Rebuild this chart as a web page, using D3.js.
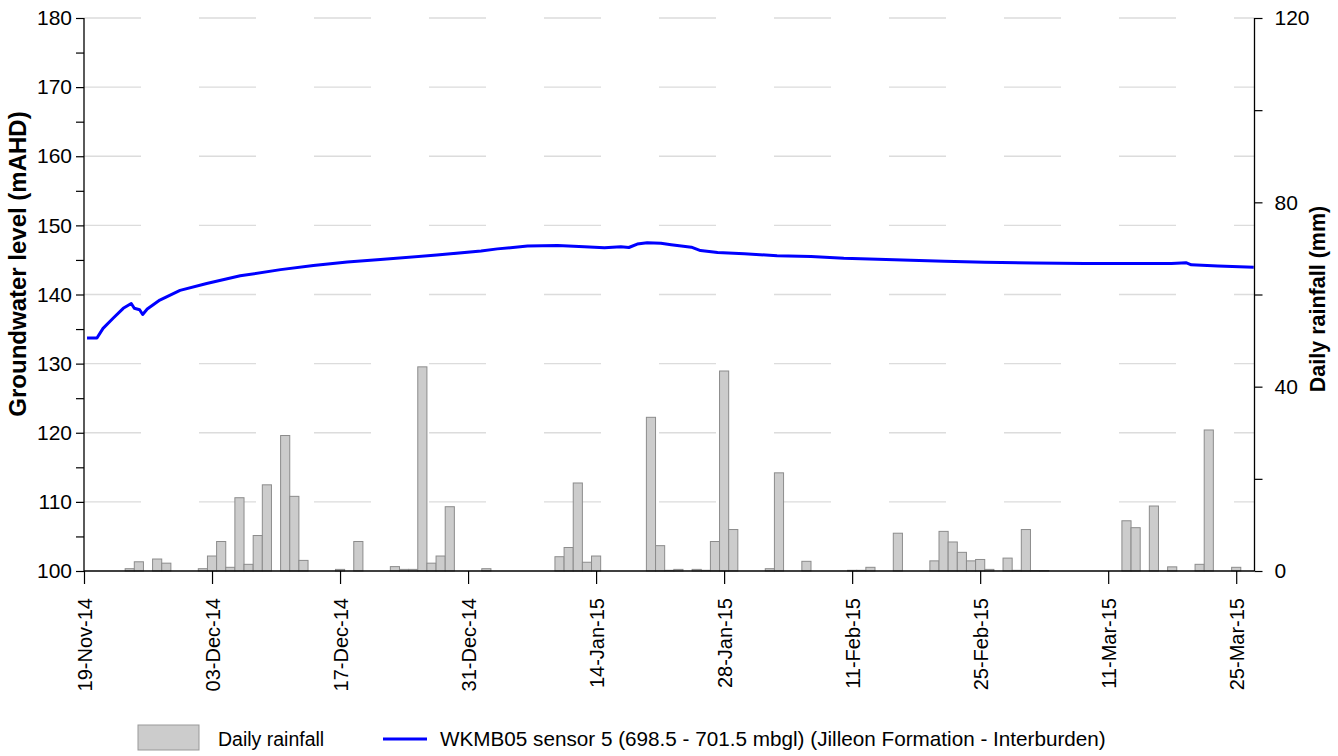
<!DOCTYPE html>
<html>
<head>
<meta charset="utf-8">
<script src="https://cdn.jsdelivr.net/npm/d3@7"></script>
<style>
  html, body { margin: 0; padding: 0; background: #ffffff; }
  svg { display: block; font-family: "Liberation Sans", Arial, sans-serif; }
</style>
</head>
<body>
<svg id="chart" width="1338" height="756"></svg>
<script>
// ---------------- DATA ----------------
const xTickDates = ["2014-11-19","2014-12-03","2014-12-17","2014-12-31","2015-01-14",
                    "2015-01-28","2015-02-11","2015-02-25","2015-03-11","2015-03-25"];
const xDomain = ["2014-11-19","2015-03-27"];

const leftTicks = [100,110,120,130,140,150,160,170,180];
const rightTicks = [0,40,80,120];

const rainDates = ["2014-11-24","2014-11-25","2014-11-27","2014-11-28","2014-12-02","2014-12-03",
  "2014-12-04","2014-12-05","2014-12-06","2014-12-07","2014-12-08","2014-12-09","2014-12-11",
  "2014-12-12","2014-12-13","2014-12-17","2014-12-19","2014-12-23","2014-12-24","2014-12-25",
  "2014-12-26","2014-12-27","2014-12-28","2014-12-29","2015-01-02","2015-01-10","2015-01-11",
  "2015-01-12","2015-01-13","2015-01-14","2015-01-20","2015-01-21","2015-01-22","2015-01-23",
  "2015-01-25","2015-01-26","2015-01-27","2015-01-28","2015-01-29","2015-02-02","2015-02-03",
  "2015-02-06","2015-02-11","2015-02-12","2015-02-13","2015-02-16","2015-02-20","2015-02-21",
  "2015-02-22","2015-02-23","2015-02-24","2015-02-25","2015-02-26","2015-02-28","2015-03-01",
  "2015-03-02","2015-03-03","2015-03-04","2015-03-13","2015-03-14","2015-03-16","2015-03-18",
  "2015-03-21","2015-03-22","2015-03-25"];
const rainValues = [0.5,2.0,2.6,1.7,0.5,3.25,
  6.4,0.8,15.9,1.45,7.7,18.7,29.4,
  16.2,2.3,0.35,6.4,0.95,0.35,0.35,
  44.3,1.7,3.25,13.95,0.5,3.1,5.1,
  19.1,1.9,3.25,33.35,5.5,0.15,0.35,
  0.35,0.15,6.4,43.4,9.0,0.5,21.3,
  2.1,0.15,0.15,0.8,8.2,2.2,8.6,
  6.3,4.05,2.2,2.5,0.35,2.8,0.15,
  9.0,0.1,0.1,10.9,9.4,14.1,0.9,
  1.45,30.6,0.8];

const gwTimes = ["2014-11-19 08:00","2014-11-20 10:00","2014-11-21 02:00","2014-11-22 05:00",
  "2014-11-23 07:00","2014-11-24 04:00","2014-11-24 12:00","2014-11-25 02:00","2014-11-25 10:00",
  "2014-11-25 22:00","2014-11-27 07:00","2014-11-29 12:00","2014-12-02 10:00","2014-12-06 02:00",
  "2014-12-10 12:00","2014-12-14 02:00","2014-12-17 19:00","2014-12-21 10:00","2014-12-27 14:00",
  "2015-01-01 10:00","2015-01-03 05:00","2015-01-06 12:00","2015-01-09 19:00","2015-01-12 17:00",
  "2015-01-14 22:00","2015-01-16 17:00","2015-01-17 14:00","2015-01-18 12:00","2015-01-19 14:00",
  "2015-01-21 02:00","2015-01-22 05:00","2015-01-24 10:00","2015-01-25 10:00","2015-01-27 07:00",
  "2015-01-30 05:00","2015-02-02 19:00","2015-02-06 12:00","2015-02-10 02:00","2015-02-13 19:00",
  "2015-02-17 10:00","2015-02-21 02:00","2015-02-25 12:00","2015-03-02 22:00","2015-03-08 10:00",
  "2015-03-12 02:00","2015-03-17 22:00","2015-03-19 00:00","2015-03-19 12:00","2015-03-20 02:00",
  "2015-03-23 00:00","2015-03-26 22:00"];
const gwLevels = [133.7,133.7,135.1,136.6,
  138.0,138.7,138.0,137.8,137.1,
  137.9,139.2,140.6,141.6,142.7,
  143.6,144.2,144.7,145.05,145.7,
  146.3,146.6,147.0,147.1,146.9,
  146.75,146.9,146.8,147.3,147.5,
  147.4,147.2,146.85,146.35,146.07,
  145.9,145.6,145.5,145.25,145.1,
  144.96,144.8,144.67,144.57,144.47,
  144.47,144.47,144.57,144.6,144.3,
  144.14,143.95];

const rainLabel = "Daily rainfall";
const gwLabel = "WKMB05 sensor 5 (698.5 - 701.5 mbgl) (Jilleon Formation - Interburden)";
const leftTitle = "Groundwater level (mAHD)";
const rightTitle = "Daily rainfall (mm)";

// ---------------- LAYOUT ----------------
const M = { left: 84, right: 1254.5, top: 18, bottom: 571 };
const parseDay = d3.utcParse("%Y-%m-%d");
const parseTime = d3.utcParse("%Y-%m-%d %H:%M");
const fmt = d3.utcFormat("%d-%b-%y");

const svg = d3.select("#chart");

const x = d3.scaleUtc().domain(xDomain.map(parseDay)).range([M.left, M.right]);
const yL = d3.scaleLinear().domain([100, 180]).range([M.bottom, M.top]);
const yR = d3.scaleLinear().domain([0, 120]).range([M.bottom, M.top]);

// gridlines
svg.append("g").selectAll("line")
  .data(leftTicks.filter(d => d > 100))
  .join("line")
  .attr("x1", M.left).attr("x2", M.right)
  .attr("y1", d => yL(d)).attr("y2", d => yL(d))
  .attr("stroke", "#dcdcdc").attr("stroke-width", 1.3)
  .attr("stroke-dasharray", "57,58");

// bars
const rain = rainDates.map((d, i) => ({ date: parseDay(d), v: rainValues[i] }));
svg.append("g").selectAll("rect")
  .data(rain)
  .join("rect")
  .attr("x", d => x(d3.utcHour.offset(d.date, -12)))
  .attr("width", d => x(d3.utcHour.offset(d.date, 12)) - x(d3.utcHour.offset(d.date, -12)))
  .attr("y", d => yR(d.v))
  .attr("height", d => yR(0) - yR(d.v))
  .attr("fill", "#cccccc")
  .attr("stroke", "#8c8c8c")
  .attr("stroke-width", 1);

// line
const gw = gwTimes.map((t, i) => ({ date: parseTime(t), v: gwLevels[i] }));
svg.append("path")
  .datum(gw)
  .attr("fill", "none")
  .attr("stroke", "#0000ff")
  .attr("stroke-width", 3)
  .attr("stroke-linejoin", "round")
  .attr("d", d3.line().x(d => x(d.date)).y(d => yL(d.v)));

// left axis
const gL = svg.append("g").attr("transform", `translate(${M.left},0)`)
  .call(d3.axisLeft(yL).tickValues(d3.range(100, 181, 5))
    .tickFormat(d => (leftTicks.includes(d) ? d : "")).tickSize(8).tickPadding(4));
// right axis
const gR = svg.append("g").attr("transform", `translate(${M.right},0)`)
  .call(d3.axisRight(yR).tickValues(d3.range(0, 121, 20))
    .tickFormat(d => (rightTicks.includes(d) ? d : "")).tickSize(8).tickPadding(12));
// bottom axis
const gB = svg.append("g").attr("transform", `translate(0,${M.bottom})`)
  .call(d3.axisBottom(x).tickValues(xTickDates.map(parseDay))
    .tickFormat(fmt).tickSize(13).tickSizeOuter(0));

[gL, gR, gB].forEach(g => {
  g.select(".domain").attr("stroke", "#000").attr("stroke-width", 1.3);
  g.selectAll(".tick line").attr("stroke", "#000").attr("stroke-width", 1.2);
  g.selectAll("text").attr("font-family", "Liberation Sans, Arial, sans-serif")
    .attr("font-size", 21).attr("fill", "#000");
});
gL.select(".domain").attr("d", `M-0,${M.bottom}V${M.top}`);
gR.select(".domain").attr("d", `M0,${M.bottom}V${M.top}`);
gB.select(".domain").attr("d", `M${M.left},0H${M.right}`);

gB.selectAll(".tick text")
  .attr("transform", "rotate(-90)")
  .attr("text-anchor", "end")
  .attr("x", -27).attr("y", 0).attr("dy", "0.35em")
  .attr("font-size", 20);

// axis titles
svg.append("text")
  .attr("transform", `translate(26,264) rotate(-90)`)
  .attr("text-anchor", "middle")
  .attr("font-weight", "bold").attr("font-size", 24)
  .text(leftTitle);
svg.append("text")
  .attr("transform", `translate(1325,299) rotate(-90)`)
  .attr("text-anchor", "middle")
  .attr("font-weight", "bold").attr("font-size", 21.5)
  .text(rightTitle);

// legend
const lg = svg.append("g");
lg.append("rect").attr("x", 138).attr("y", 725).attr("width", 61).attr("height", 25)
  .attr("fill", "#cccccc").attr("stroke", "#999999");
lg.append("text").attr("x", 218).attr("y", 746).attr("font-size", 19.5).text(rainLabel);
lg.append("line").attr("x1", 383).attr("x2", 427).attr("y1", 739).attr("y2", 739)
  .attr("stroke", "#0000ff").attr("stroke-width", 3);
lg.append("text").attr("x", 440).attr("y", 746).attr("font-size", 20.7).text(gwLabel);
</script>
</body>
</html>
